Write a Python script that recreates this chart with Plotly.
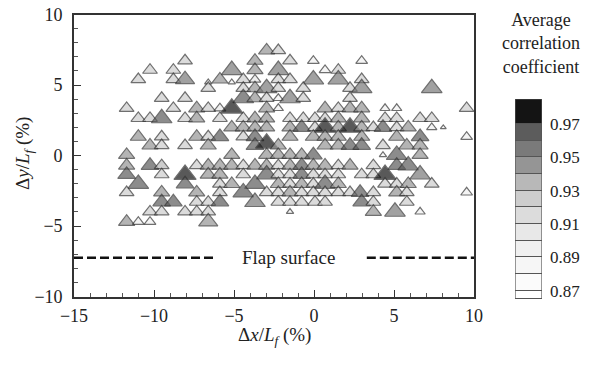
import plotly.graph_objects as go

W, H = 589, 366

# Measurement points: streamwise / normal offset (% of flap chord),
# average correlation coefficient and marker size, listed row by row
dx = [
    -2.96, -2.23,
    -8.06, -3.69, -1.50, -0.04, 2.98,
    -10.25, -8.79, -5.14, -3.69, -2.23, 0.69, 1.52,
    -10.98, -8.79, -8.06, -5.88, -4.42, -3.69, -2.23, -1.50, -0.04, 1.52, 2.98,
    -6.61, -5.14,
    -6.61, -4.42, -3.69, -2.96, -2.23, -0.67, 2.25, 2.98, 7.36,
    -9.52, -8.06, -4.42, -3.69, -2.96, -2.23, -1.50, -0.67, 2.25,
    -11.71, -8.79, -7.33, -6.61, -5.88, -5.14, -2.96, -2.23, 0.69, 1.52, 2.25, 2.98, 4.44, 5.17, 9.54,
    -10.98, -10.25, -9.52, -8.06, -7.33, -5.88, -4.42, -3.69, -2.96, -1.50, -0.67, 0.06, 0.69, 1.52, 2.98, 4.44, 5.17, 6.63, 7.36,
    -5.14, -4.42, -3.69, -2.96, -1.50, -0.77, 0.06, 0.69, 1.52, 2.25, 2.98, 3.71, 4.31, 5.17, 5.89, 7.36, 8.08,
    -10.98, -9.52, -7.33, -6.61, -5.88, -4.42, -3.69, -1.50, -0.04, 0.69, 1.52, 2.98, 5.17, 6.63, 9.54,
    -10.25, -9.52, -8.06, -6.61, -3.69, -2.96, -2.23, 0.69, 1.52, 2.25, 2.98, 4.31, 5.80, 6.63,
    -11.71, -5.14, -2.96, -2.23, -1.50, -0.77, -0.04, 4.31, 5.17, 6.63,
    -11.71, -10.25, -9.52, -7.33, -6.61, -5.88, -5.14, -4.42, -3.69, -2.96, -2.23, -1.50, -0.77, -0.04, 0.69, 1.52, 2.25, 3.71, 5.17, 5.89,
    -11.71, -9.52, -8.06, -6.61, -5.88, -4.42, -2.96, -2.23, -1.50, -0.77, -0.04, 0.69, 1.52, 2.98, 3.71, 4.44, 6.63,
    -10.98, -8.06, -5.88, -5.14, -3.69, -2.23, -1.50, -0.77, -0.04, 0.69, 1.52, 4.44, 5.17, 5.89, 7.36,
    -11.71, -9.52, -7.33, -5.88, -4.42, -2.96, -2.23, -1.50, -0.77, -0.04, 0.69, 1.52, 2.25, 2.88, 3.71, 5.17, 5.80, 9.54,
    -9.52, -8.79, -7.33, -6.61, -5.88, -3.69, -2.23, -1.50, -0.77, 0.06, 0.69, 2.98, 3.71, 5.80,
    -10.25, -9.52, -8.06, -7.33, -6.61, -1.50, 3.71, 5.06, 6.63,
    -11.71, -10.98, -10.25, -6.61,
]

dy = [
    7.45, 7.45,
    6.72, 6.72, 6.72, 6.72, 6.72,
    6.06, 6.06, 6.06, 6.06, 6.06, 6.06, 6.06,
    5.39, 5.39, 5.39, 5.39, 5.39, 5.39, 5.39, 5.39, 5.39, 5.39, 5.39,
    5.20, 5.20,
    4.77, 4.77, 4.77, 4.77, 4.77, 4.77, 4.77, 4.77, 4.77,
    4.06, 4.06, 4.06, 4.06, 4.06, 4.06, 4.06, 4.06, 4.06,
    3.35, 3.35, 3.35, 3.35, 3.35, 3.35, 3.35, 3.35, 3.35, 3.35, 3.35, 3.35, 3.35, 3.35, 3.35,
    2.64, 2.64, 2.64, 2.64, 2.64, 2.64, 2.64, 2.64, 2.64, 2.64, 2.64, 2.64, 2.64, 2.64, 2.64, 2.64, 2.64, 2.64, 2.64,
    1.99, 1.99, 1.99, 1.99, 1.99, 1.99, 1.99, 1.99, 1.99, 1.99, 1.99, 1.99, 1.99, 1.99, 1.99, 1.99, 1.99,
    1.33, 1.33, 1.33, 1.33, 1.33, 1.33, 1.33, 1.33, 1.33, 1.33, 1.33, 1.33, 1.33, 1.33, 1.33,
    0.71, 0.71, 0.71, 0.71, 0.71, 0.87, 0.71, 0.71, 0.71, 0.71, 0.71, 0.71, 0.71, 0.71,
    0.04, 0.04, 0.04, 0.04, 0.04, 0.04, 0.04, 0.04, 0.04, 0.04,
    -0.71, -0.71, -0.71, -0.71, -0.71, -0.71, -0.71, -0.71, -0.71, -0.71, -0.71, -0.71, -0.71, -0.71, -0.71, -0.71, -0.71, -0.71, -0.71, -0.71,
    -1.35, -1.35, -1.35, -1.35, -1.35, -1.35, -1.35, -1.35, -1.35, -1.35, -1.35, -1.35, -1.35, -1.35, -1.35, -1.35, -1.35,
    -2.02, -2.02, -2.02, -2.02, -2.02, -2.02, -2.02, -2.02, -2.02, -2.02, -2.02, -2.02, -2.02, -2.02, -2.02,
    -2.62, -2.62, -2.62, -2.62, -2.62, -2.62, -2.62, -2.62, -2.62, -2.62, -2.62, -2.62, -2.62, -2.62, -2.62, -2.62, -2.62, -2.62,
    -3.30, -3.30, -3.30, -3.30, -3.30, -3.30, -3.30, -3.30, -3.30, -3.30, -3.30, -3.30, -3.30, -3.30,
    -3.99, -3.99, -3.99, -3.99, -3.99, -3.99, -3.99, -3.99, -3.99,
    -4.70, -4.70, -4.70, -4.70,
]

corr = [
    0.945, 0.925,
    0.925, 0.945, 0.925, 0.895, 0.895,
    0.925, 0.925, 0.955, 0.945, 0.955, 0.895, 0.925,
    0.925, 0.925, 0.955, 0.945, 0.925, 0.905, 0.925, 0.925, 0.955, 0.955, 0.925,
    0.885, 0.885,
    0.925, 0.925, 0.945, 0.955, 0.925, 0.925, 0.925, 0.955, 0.955,
    0.925, 0.925, 0.965, 0.945, 0.925, 0.895, 0.955, 0.925, 0.925,
    0.925, 0.925, 0.945, 0.925, 0.905, 0.975, 0.945, 0.895, 0.945, 0.925, 0.945, 0.945, 0.895, 0.895, 0.925,
    0.925, 0.925, 0.965, 0.925, 0.945, 0.925, 0.925, 0.945, 0.945, 0.925, 0.925, 0.925, 0.925, 0.945, 0.945, 0.925, 0.925, 0.925, 0.925,
    0.945, 0.945, 0.945, 0.945, 0.945, 0.965, 0.925, 0.975, 0.945, 0.975, 0.945, 0.925, 0.965, 0.925, 0.945, 0.895, 0.885,
    0.945, 0.925, 0.945, 0.925, 0.965, 0.925, 0.965, 0.945, 0.945, 0.945, 0.945, 0.945, 0.945, 0.965, 0.895,
    0.945, 0.925, 0.925, 0.945, 0.965, 0.975, 0.945, 0.945, 0.945, 0.965, 0.965, 0.925, 0.945, 0.945,
    0.945, 0.945, 0.945, 0.945, 0.945, 0.945, 0.965, 0.885, 0.965, 0.945,
    0.945, 0.965, 0.935, 0.925, 0.945, 0.945, 0.945, 0.925, 0.945, 0.945, 0.925, 0.945, 0.965, 0.945, 0.945, 0.925, 0.945, 0.925, 0.965, 0.965,
    0.965, 0.925, 0.975, 0.945, 0.945, 0.925, 0.965, 0.925, 0.925, 0.965, 0.925, 0.925, 0.925, 0.925, 0.925, 0.975, 0.955,
    0.965, 0.965, 0.925, 0.945, 0.965, 0.945, 0.925, 0.945, 0.925, 0.965, 0.945, 0.925, 0.925, 0.945, 0.925,
    0.925, 0.945, 0.945, 0.925, 0.965, 0.925, 0.925, 0.945, 0.925, 0.925, 0.925, 0.925, 0.925, 0.965, 0.925, 0.945, 0.925, 0.895,
    0.965, 0.965, 0.925, 0.925, 0.965, 0.955, 0.925, 0.925, 0.925, 0.925, 0.925, 0.965, 0.925, 0.925,
    0.925, 0.925, 0.925, 0.925, 0.925, 0.885, 0.945, 0.955, 0.895,
    0.945, 0.895, 0.895, 0.945,
]

msize = [
    11, 10,
    10, 11, 10, 8, 8,
    10, 10, 14, 11, 14, 8, 10,
    10, 10, 13, 11, 10, 8, 10, 10, 14, 14, 10,
    5, 5,
    10, 10, 11, 14, 10, 10, 10, 14, 14,
    10, 10, 14, 11, 10, 7, 14, 10, 10,
    10, 10, 11, 10, 8, 15, 11, 7, 11, 10, 11, 11, 7, 7, 10,
    10, 10, 14, 10, 11, 10, 10, 11, 11, 10, 10, 10, 10, 11, 11, 10, 10, 10, 10,
    11, 11, 11, 11, 11, 12, 10, 15, 11, 15, 11, 10, 12, 10, 11, 7, 4,
    11, 10, 11, 10, 12, 10, 12, 11, 11, 11, 11, 11, 11, 12, 8,
    11, 10, 10, 11, 12, 15, 11, 11, 11, 12, 12, 10, 11, 11,
    11, 11, 11, 11, 11, 11, 12, 5, 14, 11,
    11, 12, 10, 10, 11, 11, 11, 10, 11, 11, 10, 11, 12, 11, 11, 10, 11, 10, 12, 14,
    12, 10, 15, 11, 11, 10, 14, 10, 10, 12, 10, 10, 10, 10, 10, 15, 14,
    14, 12, 10, 11, 14, 11, 10, 11, 10, 14, 11, 10, 10, 11, 10,
    10, 11, 11, 10, 14, 10, 10, 11, 10, 10, 10, 10, 10, 12, 10, 11, 10, 8,
    12, 12, 10, 10, 12, 14, 10, 10, 10, 10, 10, 12, 10, 10,
    10, 10, 10, 10, 10, 5, 11, 14, 7,
    11, 8, 8, 13,
]

assert len(dx) == len(dy) == len(corr) == len(msize)

# Discrete grey levels of the correlation scale
band_edges = [0.865, 0.87, 0.88, 0.89, 0.90, 0.91, 0.92, 0.93, 0.94, 0.95, 0.96, 0.97, 0.985]
band_colors = ["#ffffff", "#fbfbfb", "#f6f6f6", "#f0f0f0", "#e8e8e8", "#dcdcdc",
               "#cdcdcd", "#b8b8b8", "#959595", "#7a7a7a", "#5c5c5c", "#141414"]
bar_ticks = [0.87, 0.89, 0.91, 0.93, 0.95, 0.97]

# Flap surface reference line
flap_y = -7.25
flap_segments = [(-15.0, -6.3), (3.3, 10.0)]

cmin, cmax = band_edges[0], band_edges[-1]
colorscale = []
for lo, hi, col in zip(band_edges[:-1], band_edges[1:], band_colors):
    colorscale.append([(lo - cmin) / (cmax - cmin), col])
    colorscale.append([(hi - cmin) / (cmax - cmin), col])

# Triangles are scaled up so their height comes closer to equilateral
size_scale = 1.28

fig = go.Figure()

for x0, x1 in flap_segments:
    fig.add_trace(go.Scatter(
        x=[x0, x1], y=[flap_y, flap_y], mode="lines",
        line=dict(color="#111111", width=2.6, dash="9px,4px"),
        hoverinfo="skip", showlegend=False))

fig.add_trace(go.Scatter(
    x=dx, y=dy, mode="markers",
    marker=dict(symbol="triangle-up", size=[s * size_scale for s in msize], color=corr,
                colorscale=colorscale, cmin=cmin, cmax=cmax,
                line=dict(color="#333333", width=1.2), showscale=False),
    showlegend=False))

# Colour key drawn as a one-column heatmap on its own axes
band_mid = [[(lo + hi) / 2] for lo, hi in zip(band_edges[:-1], band_edges[1:])]
fig.add_trace(go.Heatmap(
    x=[0, 1], y=band_edges, z=band_mid, colorscale=colorscale,
    zmin=cmin, zmax=cmax, showscale=False, ygap=1,
    xaxis="x2", yaxis="y2", hoverinfo="skip"))

serif = "Liberation Serif, Times New Roman, serif"
ink = "#222222"


def px_x(p):
    return p / W


def px_y(p):
    return 1 - p / H


fig.update_layout(
    width=W, height=H,
    margin=dict(l=0, r=0, t=0, b=0, autoexpand=False),
    paper_bgcolor="white", plot_bgcolor="white",
    font=dict(family=serif, size=18, color=ink),
    xaxis=dict(domain=[px_x(74), px_x(474)], range=[-15, 10], automargin=False,
               tickvals=[-15, -10, -5, 0, 5, 10],
               ticks="inside", ticklen=7, tickwidth=1.4, tickcolor="#333",
               minor=dict(ticks="inside", dtick=1, ticklen=4, tickwidth=1, tickcolor="#555"),
               showline=True, linecolor="#333", linewidth=1.6, mirror=True,
               showgrid=False, zeroline=False, ticklabelstandoff=2,
               tickfont=dict(family=serif, size=18, color=ink)),
    yaxis=dict(domain=[px_y(296.5), px_y(14.5)], range=[-10, 10], automargin=False,
               tickvals=[-10, -5, 0, 5, 10],
               ticks="inside", ticklen=7, tickwidth=1.4, tickcolor="#333",
               minor=dict(ticks="inside", dtick=1, ticklen=4, tickwidth=1, tickcolor="#555"),
               showline=True, linecolor="#333", linewidth=1.6, mirror=True,
               showgrid=False, zeroline=False, ticklabelstandoff=6,
               tickfont=dict(family=serif, size=18, color=ink)),
    xaxis2=dict(domain=[px_x(515), px_x(542)], range=[0, 1], anchor="y2", automargin=False,
                showticklabels=False, ticks="", showgrid=False, zeroline=False,
                showline=False, fixedrange=True),
    yaxis2=dict(domain=[px_y(299), px_y(99)], range=[cmin, cmax], anchor="x2", automargin=False,
                side="right", tickvals=bar_ticks, ticktext=[f"{t:.2f}" for t in bar_ticks],
                ticks="", showgrid=False, zeroline=False, showline=False,
                ticklabelstandoff=7,
                tickfont=dict(family=serif, size=17, color=ink), fixedrange=True),
    shapes=[
        dict(type="rect", xref="x2", yref="y2", x0=0, x1=1, y0=cmin, y1=cmax,
             fillcolor="#555555", line=dict(width=0), layer="below"),
        dict(type="rect", xref="x2", yref="y2", x0=0, x1=1, y0=cmin, y1=cmax,
             fillcolor="rgba(0,0,0,0)", line=dict(color="#555555", width=1.2), layer="above"),
    ],
    annotations=[
        dict(text="Flap surface", x=-1.6, y=flap_y, xref="x", yref="y",
             xanchor="center", yanchor="middle",
             showarrow=False, font=dict(family=serif, size=19, color=ink)),
        dict(text="Δ<i>x</i>/<i>L<sub>f</sub></i> (%)", x=px_x(274), y=px_y(336),
             xref="paper", yref="paper", xanchor="center", yanchor="middle",
             showarrow=False, font=dict(family=serif, size=19, color=ink)),
        dict(text="Δ<i>y</i>/<i>L<sub>f</sub></i> (%)", x=px_x(24), y=px_y(154),
             xref="paper", yref="paper", xanchor="center", yanchor="middle",
             showarrow=False, textangle=-90,
             font=dict(family=serif, size=19, color=ink)),
        dict(text="Average<br>correlation<br>coefficient", x=px_x(541), y=px_y(43),
             xref="paper", yref="paper", xanchor="center", yanchor="middle",
             showarrow=False, align="center",
             font=dict(family=serif, size=18, color=ink)),
    ],
)

fig.write_html("out.html")
